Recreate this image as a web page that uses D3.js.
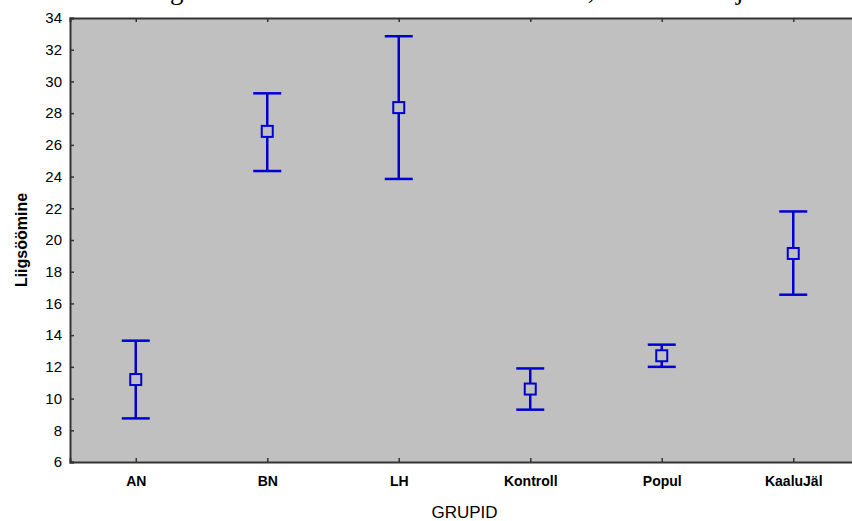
<!DOCTYPE html>
<html>
<head>
<meta charset="utf-8">
<script src="https://cdnjs.cloudflare.com/ajax/libs/d3/7.8.5/d3.min.js"></script>
<style>
body { margin: 0; background: #fff; }
svg { display: block; }
</style>
</head>
<body>
<div id="chart"></div>
<script>
// --> DATA
var groups = ["AN", "BN", "LH", "Kontroll", "Popul", "KaaluJäl"];
var means  = [11.2, 26.85, 28.35, 10.6, 12.7, 19.15];
var lower  = [8.75, 24.35, 23.85, 9.3, 12.0, 16.55];
var upper  = [13.65, 29.25, 32.85, 11.9, 13.4, 21.8];
var yTicks = [6, 8, 10, 12, 14, 16, 18, 20, 22, 24, 26, 28, 30, 32, 34];

var width = 852,
    height = 521;
var margin = { top: 18, right: -7, bottom: 59, left: 70 };

var svg = d3.select("#chart").append("svg")
    .attr("width", width)
    .attr("height", height);

var plotW = width - margin.left - margin.right,
    plotH = height - margin.top - margin.bottom;

var x = d3.scalePoint()
    .domain(groups)
    .range([0, plotW])
    .padding(0.5);

var y = d3.scaleLinear()
    .domain([6, 34])
    .range([plotH, 0]);

var blue = "#0000d2";

// title, mostly cut off at top of the image (only descenders show)
var title = svg.append("text")
    .attr("y", -1)
    .style("font-family", "'Liberation Serif', 'Times New Roman', serif")
    .style("font-size", "27px")
    .text("Keskmine liigsöömine erinevates uuritud rühmades, vastavalt ka joonisel");
var gIdx = title.text().indexOf("g");
var off = title.node().getSubStringLength(0, gIdx);
title.attr("x", 170 - off);

var g = svg.append("g")
    .attr("transform", "translate(" + margin.left + "," + margin.top + ")");

g.append("rect")
    .attr("width", plotW)
    .attr("height", plotH)
    .attr("fill", "#c0c0c0");

// axes with inward ticks
var yAxis = g.append("g")
    .call(d3.axisLeft(y).tickValues(yTicks).tickSize(-4).tickPadding(8));
var xAxis = g.append("g")
    .attr("transform", "translate(0," + plotH + ")")
    .call(d3.axisBottom(x).tickSize(-4).tickPadding(14));
var xTop = g.append("g")
    .call(d3.axisTop(x).tickSize(-4).tickFormat(""));

[yAxis, xAxis, xTop].forEach(function(a) {
    a.select(".domain").attr("stroke", "#333").attr("stroke-width", 2);
    a.selectAll(".tick line").attr("stroke", "#333").attr("stroke-width", 1.5);
});

yAxis.selectAll("text")
    .style("font-family", "'Liberation Sans', Arial, sans-serif")
    .style("font-size", "15px")
    .attr("fill", "#000");

xAxis.selectAll("text")
    .style("font-family", "'Liberation Sans', Arial, sans-serif")
    .style("font-size", "14px")
    .style("font-weight", "bold")
    .attr("fill", "#000");

// error bars
var bars = g.selectAll(".err")
    .data(groups)
    .enter().append("g")
    .attr("class", "err");

bars.append("line")
    .attr("x1", function(d) { return x(d); })
    .attr("x2", function(d) { return x(d); })
    .attr("y1", function(d, i) { return y(upper[i]); })
    .attr("y2", function(d, i) { return y(lower[i]); })
    .attr("stroke", blue)
    .attr("stroke-width", 2.5);

bars.append("line")
    .attr("x1", function(d) { return x(d) - 14; })
    .attr("x2", function(d) { return x(d) + 14; })
    .attr("y1", function(d, i) { return y(upper[i]); })
    .attr("y2", function(d, i) { return y(upper[i]); })
    .attr("stroke", blue)
    .attr("stroke-width", 2.5);

bars.append("line")
    .attr("x1", function(d) { return x(d) - 14; })
    .attr("x2", function(d) { return x(d) + 14; })
    .attr("y1", function(d, i) { return y(lower[i]); })
    .attr("y2", function(d, i) { return y(lower[i]); })
    .attr("stroke", blue)
    .attr("stroke-width", 2.5);

bars.append("rect")
    .attr("x", function(d) { return x(d) - 5.5; })
    .attr("y", function(d, i) { return y(means[i]) - 5.5; })
    .attr("width", 11)
    .attr("height", 11)
    .attr("fill", "#c0c0c0")
    .attr("stroke", blue)
    .attr("stroke-width", 2);

// axis titles
svg.append("text")
    .attr("x", margin.left + plotW / 2)
    .attr("y", 518)
    .attr("text-anchor", "middle")
    .style("font-family", "'Liberation Sans', Arial, sans-serif")
    .style("font-size", "17px")
    .text("GRUPID");

svg.append("text")
    .attr("transform", "translate(27," + (margin.top + plotH / 2) + ") rotate(-90)")
    .attr("text-anchor", "middle")
    .style("font-family", "'Liberation Sans', Arial, sans-serif")
    .style("font-size", "16px")
    .style("font-weight", "bold")
    .text("Liigsöömine");
</script>
</body>
</html>
